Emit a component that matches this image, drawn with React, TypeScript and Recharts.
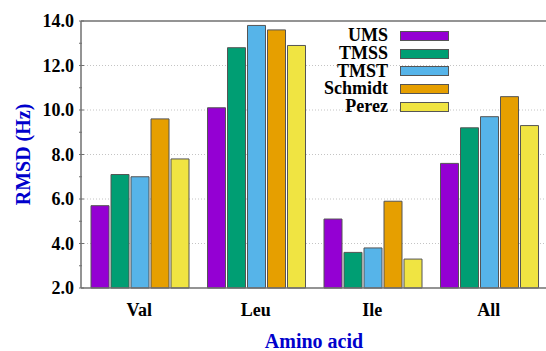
// Grouped bar chart: RMSD per amino acid for five methods.
// Mimics a gnuplot figure: inward ticks, dotted grid, boxed legend keys.

import { BarChart, Bar, XAxis, YAxis, CartesianGrid, ReferenceLine, Legend } from 'recharts'

const categories = ['Val', 'Leu', 'Ile', 'All']
const seriesNames = ['UMS', 'TMSS', 'TMST', 'Schmidt', 'Perez']
const seriesColors = ['#9400d3', '#009e73', '#56b4e9', '#e69f00', '#f0e442']

const ums = [5.7, 10.1, 5.1, 7.6]
const tmss = [7.1, 12.8, 3.6, 9.2]
const tmst = [7.0, 13.8, 3.8, 9.7]
const schmidt = [9.6, 13.6, 5.9, 10.6]
const perez = [7.8, 12.9, 3.3, 9.3]

const yTicks = [2, 3, 4, 5, 6, 7, 8, 9, 10, 11, 12, 13, 14]
const gridValues = [4, 6, 8, 10, 12]

const seriesValues = [ums, tmss, tmst, schmidt, perez]
const data = categories.map((name, i) => {
  const row: Record<string, string | number> = { name }
  seriesNames.forEach((s, j) => {
    row[s] = seriesValues[j][i]
  })
  return row
})

const FONT = "'Liberation Serif', 'Times New Roman', serif"
const FRAME = '#707070'
const LABEL_BLUE = '#0000cc'

function LeftTick({ x, y, payload }: any) {
  const major = payload.value % 2 === 0
  return (
    <g>
      <line x1={x} x2={x + (major ? 5 : 3)} y1={y} y2={y} stroke={FRAME} />
      {major && (
        <text
          x={x - 5}
          y={y + 6}
          textAnchor="end"
          style={{ fontFamily: FONT, fontWeight: 'bold', fontSize: 18 }}
          fill="#000"
        >
          {payload.value.toFixed(1)}
        </text>
      )}
    </g>
  )
}

function RightTick({ x, y, payload }: any) {
  const major = payload.value % 2 === 0
  return <line x1={x} x2={x - (major ? 5 : 3)} y1={y} y2={y} stroke={FRAME} />
}

function CategoryTick({ x, y, payload }: any) {
  return (
    <text
      x={x}
      y={y + 26}
      textAnchor="middle"
      style={{ fontFamily: FONT, fontWeight: 'bold', fontSize: 18 }}
      fill="#000"
    >
      {payload.value}
    </text>
  )
}

function KeyBox() {
  return (
    <div style={{ fontFamily: FONT, fontWeight: 'bold', fontSize: 18, color: '#000' }}>
      {seriesNames.map((s, i) => (
        <div key={s} style={{ display: 'flex', alignItems: 'center', height: 17.8 }}>
          <span style={{ width: 88, textAlign: 'right', lineHeight: '17.8px' }}>{s}</span>
          <span
            style={{
              marginLeft: 12,
              width: 47,
              height: 8,
              background: seriesColors[i],
              border: '1px solid #555',
            }}
          />
        </div>
      ))}
    </div>
  )
}

export default function App() {
  return (
    <div style={{ position: 'absolute', left: 0, top: 0, width: 546, height: 351, overflow: 'hidden', background: '#fff' }}>
      <BarChart
        width={548}
        height={351}
        data={data}
        margin={{ top: 21, right: 0, bottom: 0, left: 0 }}
        barCategoryGap={10}
        barGap={2}
      >
        <CartesianGrid
          yAxisId="left"
          vertical={false}
          horizontalValues={gridValues}
          stroke="#c4c4c4"
          strokeDasharray="1 2"
        />
        <XAxis
          dataKey="name"
          height={63}
          tickSize={0}
          tickLine={false}
          axisLine={{ stroke: FRAME, strokeWidth: 1.5 }}
          tick={<CategoryTick />}
          label={{
            content: ({ viewBox }: any) => (
              <text
                x={viewBox.x + viewBox.width / 2}
                y={viewBox.y + 60}
                textAnchor="middle"
                style={{ fontFamily: FONT, fontWeight: 'bold', fontSize: 20 }}
                fill={LABEL_BLUE}
              >
                Amino acid
              </text>
            ),
          }}
        />
        <YAxis
          yAxisId="left"
          width={81}
          domain={[2, 14]}
          ticks={yTicks}
          interval={0}
          tickSize={0}
          tickLine={false}
          axisLine={{ stroke: FRAME, strokeWidth: 1.5 }}
          tick={<LeftTick />}
          label={{
            content: ({ viewBox }: any) => {
              const cx = 23
              const cy = viewBox.y + viewBox.height / 2
              return (
                <text
                  x={cx}
                  y={cy}
                  transform={`rotate(-90 ${cx} ${cy})`}
                  textAnchor="middle"
                  dominantBaseline="central"
                  style={{ fontFamily: FONT, fontWeight: 'bold', fontSize: 20 }}
                  fill={LABEL_BLUE}
                >
                  RMSD (Hz)
                </text>
              )
            },
          }}
        />
        <YAxis
          yAxisId="right"
          orientation="right"
          width={1}
          domain={[2, 14]}
          ticks={yTicks}
          interval={0}
          tickSize={0}
          tickLine={false}
          axisLine={false}
          tick={<RightTick />}
        />
        <ReferenceLine yAxisId="left" y={14} stroke={FRAME} strokeWidth={1.5} />
        <Legend
          layout="horizontal"
          verticalAlign="middle"
          align="center"
          content={<KeyBox />}
          wrapperStyle={{ top: 27, left: 300, width: 'auto' }}
        />
        {seriesNames.map((s, i) => (
          <Bar
            key={s}
            yAxisId="left"
            dataKey={s}
            fill={seriesColors[i]}
            stroke="#555"
            strokeWidth={1}
            isAnimationActive={false}
          />
        ))}
      </BarChart>
    </div>
  )
}
